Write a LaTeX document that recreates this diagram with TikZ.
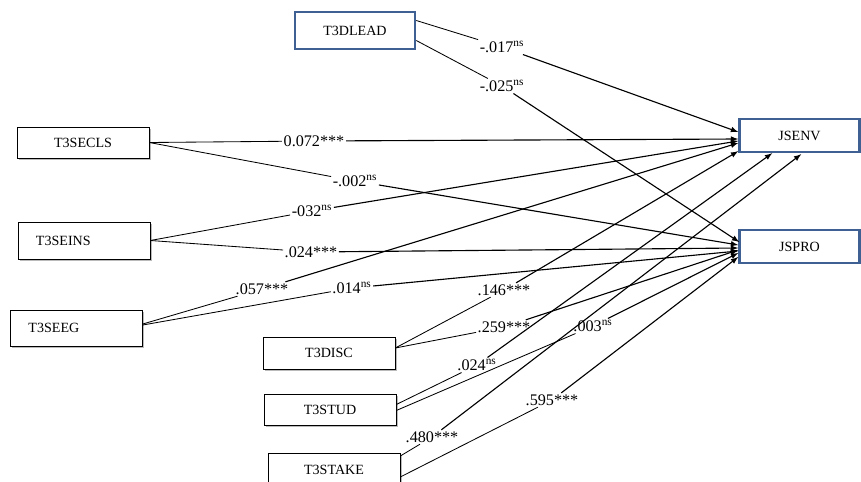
\documentclass[tikz,border=0pt]{standalone}
\usepackage{fontspec}
\setmainfont{Liberation Serif}
\usetikzlibrary{calc,shadows}

\definecolor{boxblue}{RGB}{62,96,146}

\begin{document}
\begin{tikzpicture}[x=0.025cm,y=-0.025cm,>=latex,
  box/.style={draw,fill=white,minimum width=3.3cm,minimum height=0.8cm,inner sep=2pt,
    drop shadow={shadow xshift=1.3pt,shadow yshift=-1.3pt,fill=black!45,opacity=0.6}},
  leftbox/.style={box,text width=2.4cm,align=left,inner xsep=0.45cm},
  outbox/.style={draw=boxblue,line width=1.8pt,fill=white,minimum width=3cm,minimum height=0.82cm},
  coef/.style={inner sep=1pt,font=\fontsize{11.5}{13}\selectfont},
  link/.style={line width=0.6pt},
  arr/.style={->,line width=0.8pt}]
\useasboundingbox (0,0) rectangle (861,481);

% outcomes
\node[outbox,minimum height=0.92cm] (lead) at (355,30.5) {T3DLEAD};
\node[outbox] (env) at (799.5,135.5) {JSENV};
\node[outbox] (pro) at (799.5,246.5) {JSPRO};

% predictors
\node[box,minimum height=0.78cm] (secls) at (83,142.5) {T3SECLS};
\node[leftbox,minimum height=0.92cm] (seins) at (84,240.5) {T3SEINS};
\node[leftbox,minimum height=0.9cm] (seeg) at (76.5,328) {T3SEEG};
\node[box] (disc) at (329,353) {T3DISC};
\node[box,minimum height=0.78cm] (stud) at (330,409.5) {T3STUD};
\node[box,minimum height=0.85cm] (stake) at (334,470) {T3STAKE};

% path coefficients
\node[coef] (leadenv) at (502,47) {-.017\textsuperscript{ns}};
\node[coef] (leadpro) at (502,86) {-.025\textsuperscript{ns}};
\node[coef] (seclsenv) at (314,141) {0.072***};
\node[coef] (seclspro) at (355,181) {-.002\textsuperscript{ns}};
\node[coef] (seinsenv) at (312,211) {-032\textsuperscript{ns}};
\node[coef] (seinspro) at (311,252) {.024***};
\node[coef] (seegenv) at (262,289) {.057***};
\node[coef] (seegpro) at (352,288) {.014\textsuperscript{ns}};
\node[coef] (discenv) at (504,290) {.146***};
\node[coef] (discpro) at (504,327) {.259***};
\node[coef] (studenv) at (477,365) {.024\textsuperscript{ns}};
\node[coef] (studpro) at (593,326) {.003\textsuperscript{ns}};
\node[coef] (stakeenv) at (432,437) {.480***};
\node[coef] (stakepro) at (552,400) {.595***};

% T3DLEAD
\draw[link] ($(lead.east)+(0,-10)$) -- (leadenv);
\draw[arr] (leadenv) -- ($(env.west)+(0,-3.5)$);
\draw[link] ($(lead.east)+(0,10)$) -- (leadpro);
\draw[arr] (leadpro) -- ($(pro.west)+(1,-4.5)$);

% T3SECLS
\draw[link] (secls.east) -- (seclsenv);
\draw[arr] (seclsenv) -- ($(env.west)+(0,3.5)$);
\draw[link] (secls.east) -- (seclspro);
\draw[arr] (seclspro) -- ($(pro.west)+(0,-1.5)$);

% T3SEINS
\draw[link] (seins.east) -- (seinsenv);
\draw[arr] (seinsenv) -- ($(env.west)+(0,5.5)$);
\draw[link] (seins.east) -- (seinspro);
\draw[arr] (seinspro) -- ($(pro.west)+(0,1.5)$);

% T3SEEG
\draw[link] ($(seeg.east)+(0,-4)$) -- (seegenv);
\draw[arr] (seegenv) -- ($(env.west)+(0,7.5)$);
\draw[link] ($(seeg.east)+(0,-3)$) -- (seegpro);
\draw[arr] (seegpro) -- ($(pro.west)+(0,4.5)$);

% T3DISC
\draw[link] ($(disc.east)+(0,-5)$) -- (discenv);
\draw[arr] (discenv) -- ($(env.south west)+(0,-2)$);
\draw[link] ($(disc.east)+(0,-5)$) -- (discpro);
\draw[arr] (discpro) -- ($(pro.west)+(0,3.5)$);

% T3STUD
\draw[link] ($(stud.east)+(0,-5)$) -- (studenv);
\draw[arr] (studenv) -- ($(env.south west)+(34,0)$);
\draw[link] ($(stud.east)+(0,1)$) -- (studpro);
\draw[arr] (studpro) -- ($(pro.west)+(0,6.5)$);

% T3STAKE
\draw[link] ($(stake.east)+(0,-14)$) -- (stakeenv);
\draw[arr] (stakeenv) -- ($(env.south west)+(63,1)$);
\draw[link] ($(stake.east)+(0,7)$) -- (stakepro);
\draw[arr] (stakepro) -- ($(pro.west)+(0,10.5)$);
\end{tikzpicture}
\end{document}
